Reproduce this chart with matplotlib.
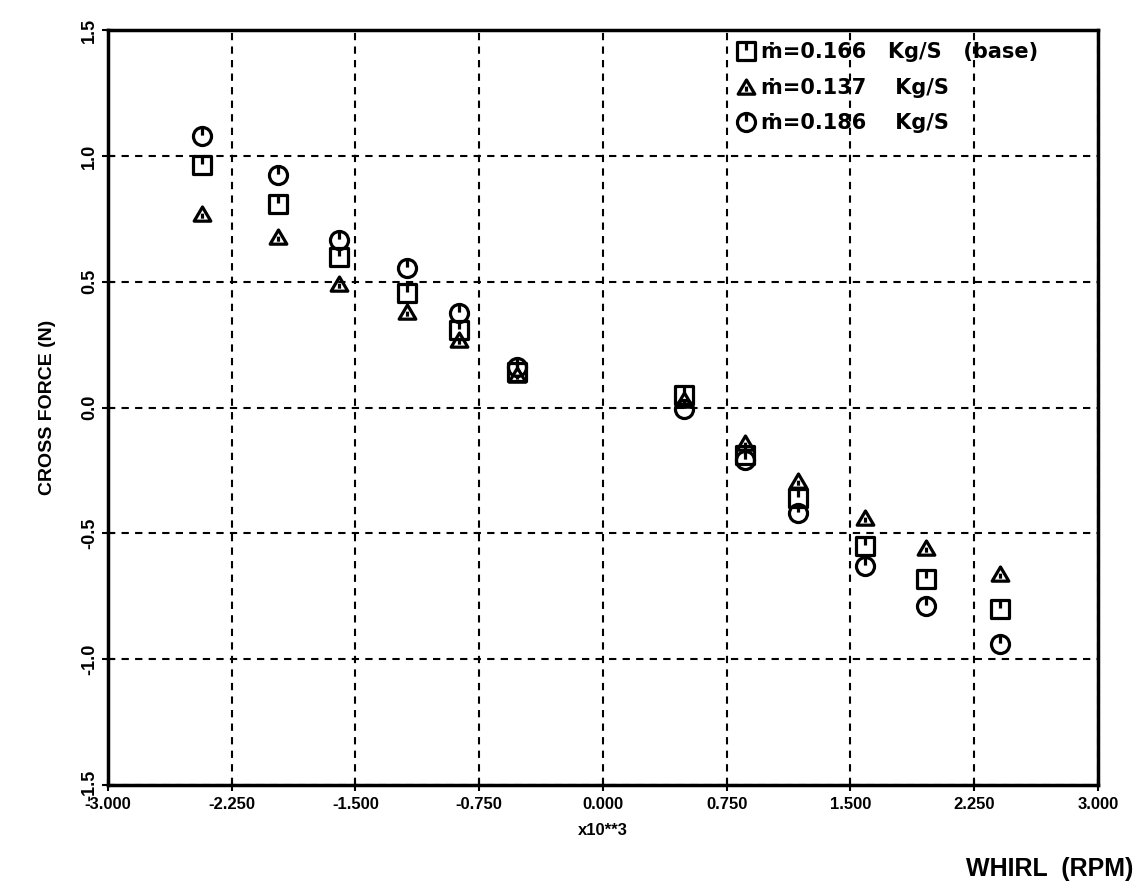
import matplotlib
matplotlib.use("Agg")
import matplotlib.pyplot as plt
from matplotlib.path import Path
import numpy as np

# whirl speed (x10**3 RPM)
whirl = [-2.43, -1.97, -1.60, -1.19, -0.87, -0.52, 0.49, 0.86, 1.18, 1.59, 1.96, 2.41]

# cross force (N) for each mass flow rate
force_base = [0.965, 0.81, 0.60, 0.455, 0.31, 0.14, 0.048, -0.19, -0.36, -0.55, -0.68, -0.80]
force_137 = [0.77, 0.676, 0.49, 0.38, 0.27, 0.13, 0.028, -0.14, -0.29, -0.44, -0.56, -0.66]
force_186 = [1.08, 0.926, 0.664, 0.555, 0.376, 0.16, -0.004, -0.21, -0.42, -0.63, -0.79, -0.94]

labels = ["ṁ=0.166   Kg/S   (base)", "ṁ=0.137    Kg/S", "ṁ=0.186    Kg/S"]

xticks = [-3.0, -2.25, -1.5, -0.75, 0.0, 0.75, 1.5, 2.25, 3.0]
yticks = [-1.5, -1.0, -0.5, 0.0, 0.5, 1.0, 1.5]

plt.rcParams['font.family'] = ['Liberation Sans', 'DejaVu Sans']
plt.rcParams['font.weight'] = 'bold'


def with_tick(verts, codes):
    # plotter-style symbol: outline plus a short stroke from the top to the centre
    verts = list(verts) + [(0.0, 1.0), (0.0, 0.1)]
    codes = list(codes) + [Path.MOVETO, Path.LINETO]
    return Path(verts, codes)


sq = [(-1, -1), (1, -1), (1, 1), (-1, 1), (-1, -1)]
square_mk = with_tick(sq, [Path.MOVETO] + [Path.LINETO] * 3 + [Path.CLOSEPOLY])
circ = Path.unit_circle()
circle_mk = with_tick(circ.vertices, circ.codes)
tri = [(-1, -0.8), (1, -0.8), (0, 0.9), (-1, -0.8)]
tri_mk = Path(tri + [(0, 0.1), (0, -0.5)],
              [Path.MOVETO, Path.LINETO, Path.LINETO, Path.CLOSEPOLY, Path.MOVETO, Path.LINETO])

fig = plt.figure(figsize=(11.37, 8.85), dpi=100)
ax = fig.add_axes([0.095, 0.113, 0.8705, 0.853])

ax.plot(whirl, force_base, linestyle='none', marker=square_mk, markersize=13,
        markerfacecolor='none', markeredgecolor='black', markeredgewidth=2.3, label=labels[0])
ax.plot(whirl, force_137, linestyle='none', marker=tri_mk, markersize=12,
        markerfacecolor='none', markeredgecolor='black', markeredgewidth=2.3, label=labels[1])
ax.plot(whirl, force_186, linestyle='none', marker=circle_mk, markersize=13,
        markerfacecolor='none', markeredgecolor='black', markeredgewidth=2.3, label=labels[2])

ax.set_xlim(-3.0, 3.0)
ax.set_ylim(-1.5, 1.5)
ax.set_xticks(xticks)
ax.set_yticks(yticks)
ax.set_xticklabels([f"{t:.3f}" for t in xticks], fontsize=12, fontweight='bold')
ax.set_yticklabels([f"{t:.1f}" for t in yticks], fontsize=13, fontweight='bold',
                   rotation=90, va='center')
ax.tick_params(axis='both', direction='inout', length=8, width=1.5, pad=5)
ax.tick_params(axis='y', pad=3)
ax.grid(True, color='black', linestyle=(0, (3.5, 3)), linewidth=1.5)

for s in ax.spines.values():
    s.set_linewidth(2.5)

ax.set_ylabel("CROSS FORCE (N)", fontsize=14, fontweight='bold', labelpad=18)
fig.text(0.53, 0.062, "x10**3", ha='center', va='center', fontsize=12, fontweight='bold')
fig.text(0.997, 0.004, "WHIRL  (RPM)", ha='right', va='bottom', fontsize=18, fontweight='bold')

leg = ax.legend(loc='upper left', bbox_to_anchor=(0.627, 0.995), frameon=False,
                handletextpad=0.25, labelspacing=0.75, borderaxespad=0.0, handlelength=0.9,
                prop={'family': ['DejaVu Sans'], 'weight': 'bold', 'size': 15})

fig.savefig("out.png", dpi=100)
